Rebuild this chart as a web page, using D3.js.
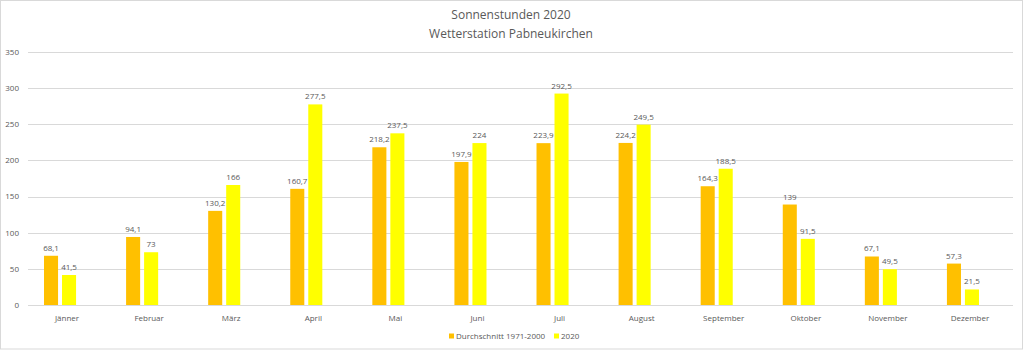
<!DOCTYPE html>
<html>
<head>
<meta charset="utf-8">
<script src="https://cdn.jsdelivr.net/npm/d3@7"></script>
<style>
  body { margin: 0; background: #fff; }
  svg text { font-family: "Open Sans", "Noto Sans", sans-serif; fill: #595959; }
</style>
</head>
<body>
<div id="chart"></div>
<script>
// months (category axis)
var months = ["Jänner", "Februar", "März", "April", "Mai", "Juni", "Juli", "August", "September", "Oktober", "November", "Dezember"];
// long term average 1971-2000
var avg_values = [68.1, 94.1, 130.2, 160.7, 218.2, 197.9, 223.9, 224.2, 164.3, 139, 67.1, 57.3];
// year 2020
var y2020_values = [41.5, 73, 166, 277.5, 237.5, 224, 292.5, 249.5, 188.5, 91.5, 49.5, 21.5];
var series_names = ["Durchschnitt 1971-2000", "2020"];
var series_colors = ["#FFC000", "#FFFF00"];
var y_ticks = [0, 50, 100, 150, 200, 250, 300, 350];
var title_lines = ["Sonnenstunden 2020", "Wetterstation Pabneukirchen"];

var width = 1024, height = 351;
var plot = { left: 28, right: 1013, top: 52, bottom: 305 };

var svg = d3.select("#chart")
    .append("svg")
    .attr("width", width)
    .attr("height", height);

// chart border
svg.append("rect")
    .attr("x", 0.5).attr("y", 0.5)
    .attr("width", 1022).attr("height", 348.5)
    .attr("fill", "#fff")
    .attr("stroke", "#D9D9D9");

var x0 = d3.scaleBand()
    .domain(months)
    .range([plot.left, plot.right])
    .padding(0);

// Excel leaves room for a third (empty) slot, so the pair sits left of centre
var x1 = d3.scaleBand()
    .domain([0, 1, 2])
    .range([x0.bandwidth() * 0.195, x0.bandwidth() * 0.805])
    .paddingInner(0.22);

var y = d3.scaleLinear()
    .domain([0, 350])
    .range([plot.bottom, plot.top]);

// gridlines
svg.append("g")
    .selectAll("line")
    .data(y_ticks)
    .enter().append("line")
    .attr("x1", plot.left)
    .attr("x2", plot.right)
    .attr("y1", function(d) { return Math.round(y(d)) + 0.5; })
    .attr("y2", function(d) { return Math.round(y(d)) + 0.5; })
    .attr("stroke", "#D9D9D9")
    .attr("stroke-width", 1);

// y tick labels
svg.append("g")
    .selectAll("text")
    .data(y_ticks)
    .enter().append("text")
    .attr("x", 19)
    .attr("y", function(d) { return y(d); })
    .attr("dy", "0.35em")
    .attr("text-anchor", "end")
    .attr("font-size", 8)
    .text(function(d) { return d; });

// title
svg.append("g")
    .selectAll("text")
    .data(title_lines)
    .enter().append("text")
    .attr("x", 511)
    .attr("y", function(d, i) { return 15 + i * 18.5; })
    .attr("dy", "0.35em")
    .attr("text-anchor", "middle")
    .attr("font-size", 12)
    .text(function(d) { return d; });

var fmt = function(v) { return String(v).replace(".", ","); };

var series = [avg_values, y2020_values];

series.forEach(function(vals, s) {
    var g = svg.append("g");
    g.selectAll("rect")
        .data(vals)
        .enter().append("rect")
        .attr("x", function(d, i) { return x0(months[i]) + x1(s); })
        .attr("y", function(d) { return y(d); })
        .attr("width", x1.bandwidth())
        .attr("height", function(d) { return y(0) - y(d); })
        .attr("fill", series_colors[s]);

    g.selectAll("text")
        .data(vals)
        .enter().append("text")
        .attr("x", function(d, i) { return x0(months[i]) + x1(s) + x1.bandwidth() / 2; })
        .attr("y", function(d) { return y(d) - 5; })
        .attr("text-anchor", "middle")
        .attr("font-size", 8)
        .text(function(d) { return fmt(d); });
});

// category labels
svg.append("g")
    .selectAll("text")
    .data(months)
    .enter().append("text")
    .attr("x", function(d) { return x0(d) + x0.bandwidth() / 2 - 2; })
    .attr("y", 318)
    .attr("dy", "0.35em")
    .attr("text-anchor", "middle")
    .attr("font-size", 8)
    .text(function(d) { return d; });

// legend
var legend_x = [449, 554];
var legend = svg.append("g")
    .selectAll("g")
    .data(series_names)
    .enter().append("g")
    .attr("transform", function(d, i) { return "translate(" + legend_x[i] + ",336)"; });

legend.append("rect")
    .attr("x", 0).attr("y", -2.5)
    .attr("width", 5).attr("height", 5)
    .attr("fill", function(d, i) { return series_colors[i]; });

legend.append("text")
    .attr("x", 7)
    .attr("y", 0)
    .attr("dy", "0.35em")
    .attr("font-size", 8)
    .text(function(d) { return d; });
</script>
</body>
</html>
